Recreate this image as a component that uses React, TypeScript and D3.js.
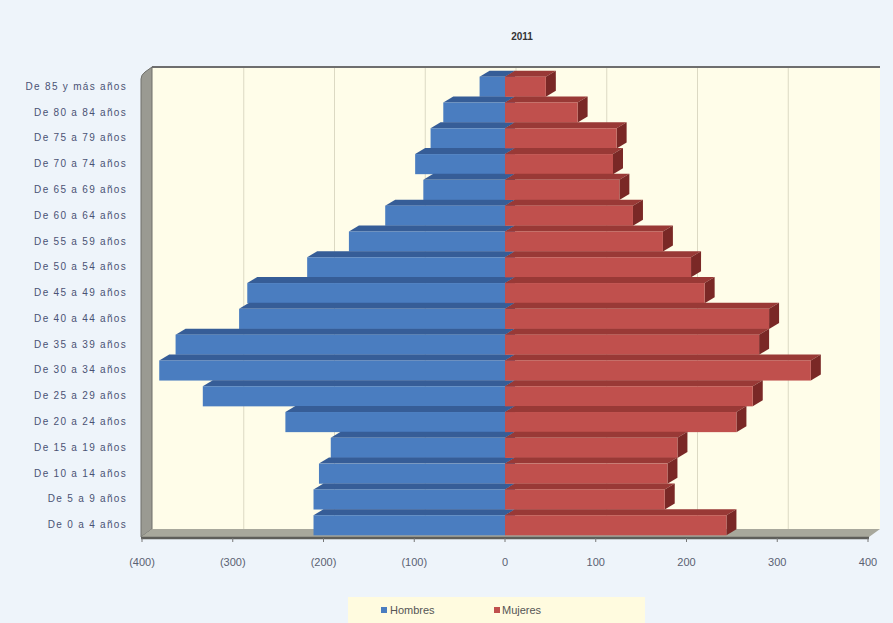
import React from 'react'
import * as d3 from 'd3'

const categories = [
  'De 85 y más años',
  'De 80 a 84 años',
  'De 75 a 79 años',
  'De 70 a 74 años',
  'De 65 a 69 años',
  'De 60 a 64 años',
  'De 55 a 59 años',
  'De 50 a 54 años',
  'De 45 a 49 años',
  'De 40 a 44 años',
  'De 35 a 39 años',
  'De 30 a 34 años',
  'De 25 a 29 años',
  'De 20 a 24 años',
  'De 15 a 19 años',
  'De 10 a 14 años',
  'De 5 a 9 años',
  'De 0 a 4 años',
]

// hombres are drawn to the left (negative values)
const hombres = [28, 68, 82, 99, 90, 132, 172, 218, 284, 293, 363, 381, 333, 242, 192, 205, 211, 211]
const mujeres = [45, 80, 123, 119, 126, 141, 174, 205, 220, 291, 280, 337, 273, 255, 190, 179, 176, 244]

const xTicks = [-400, -300, -200, -100, 0, 100, 200, 300, 400]
const title = '2011'
const seriesNames = ['Hombres', 'Mujeres']

const width = 893
const height = 623
const font = 'Liberation Sans, Arial, sans-serif'

// 3d offsets
const dx = 10
const dy = -6
const wallDx = 11
const wallDy = -8

const plot = { left: 141, right: 868, top: 75, bottom: 537 }

const xScale = d3.scaleLinear().domain([-400, 400]).range([142, 868])
const yScale = d3.scaleBand().domain(categories).range([71, 541]).padding(0.22)

const colors = {
  blue: { front: '#4a7dc0', top: '#365d97', side: '#2e4f80' },
  red: { front: '#c0504d', top: '#993936', side: '#7a2826' },
}

function fmt(t: number) {
  return t < 0 ? `(${Math.abs(t)})` : `${t}`
}

function Bar({ x0, x1, y, h, c }: { x0: number; x1: number; y: number; h: number; c: any }) {
  const top = `M${x0},${y} L${x0 + dx},${y + dy} L${x1 + dx},${y + dy} L${x1},${y} Z`
  const side = `M${x1},${y} L${x1 + dx},${y + dy} L${x1 + dx},${y + h + dy} L${x1},${y + h} Z`
  return (
    <g>
      <path d={top} fill={c.top} />
      <path d={side} fill={c.side} />
      <rect x={x0} y={y} width={x1 - x0} height={h} fill={c.front} />
    </g>
  )
}

function Walls() {
  const backLeft = plot.left + wallDx
  const backTop = plot.top + wallDy
  const backBottom = plot.bottom + wallDy
  const backRight = 880
  return (
    <g>
      <rect x={backLeft} y={backTop} width={backRight - backLeft} height={backBottom - backTop} fill="#fffde9" />
      {xTicks.slice(1, -1).map(t => (
        <line
          key={t}
          x1={xScale(t) + wallDx}
          x2={xScale(t) + wallDx}
          y1={backTop}
          y2={backBottom}
          stroke="#dcd9c3"
          strokeWidth={1}
        />
      ))}
      <path
        d={`M${plot.left},${plot.top + 4} Q${plot.left},${plot.top} ${plot.left + 4},${plot.top - 3} L${backLeft},${backTop} L${backLeft},${backBottom} L${plot.left},${plot.bottom} Z`}
        fill="#9a9a92"
        stroke="#6f6f6a"
        strokeWidth={1}
      />
      <line x1={backLeft} x2={backRight} y1={backTop} y2={backTop} stroke="#6e6e6e" strokeWidth={2} />
      <path
        d={`M${plot.left},${plot.bottom} L${backLeft},${backBottom} L${backRight},${backBottom} L${backRight - wallDx},${plot.bottom} Z`}
        fill="#a8a89c"
      />
      <line x1={plot.left} x2={backRight - wallDx} y1={plot.bottom + 1} y2={plot.bottom + 1} stroke="#5e5e5a" strokeWidth={2.5} />
    </g>
  )
}

export default function App() {
  const h = yScale.bandwidth()
  return (
    <svg
      width={width}
      height={height}
      style={{ position: 'absolute', left: 0, top: 0, background: '#eef4fa' }}
      fontFamily={font}
    >
      <rect x={0} y={0} width={width} height={height} fill="#eef4fa" />
      <text x={522} y={40} textAnchor="middle" fontSize={10} fontWeight="bold" fill="#333">
        {title}
      </text>

      <Walls />

      {categories.map((c, i) => (
        <Bar key={'h' + c} x0={xScale(-hombres[i])} x1={xScale(0)} y={yScale(c)!} h={h} c={colors.blue} />
      ))}
      {categories.map((c, i) => (
        <Bar key={'m' + c} x0={xScale(0)} x1={xScale(mujeres[i])} y={yScale(c)!} h={h} c={colors.red} />
      ))}

      {categories.map(c => (
        <text
          key={'l' + c}
          x={127}
          y={yScale(c)! + h / 2 + 3}
          textAnchor="end"
          fontSize={10}
          letterSpacing={1.3}
          fill="#4a5274"
        >
          {c}
        </text>
      ))}

      {xTicks.map(t => (
        <g key={t}>
          <line x1={xScale(t)} x2={xScale(t)} y1={plot.bottom + 1} y2={plot.bottom + 5} stroke="#777" />
          <text x={xScale(t)} y={566} textAnchor="middle" fontSize={11} fill="#5a6172">
            {fmt(t)}
          </text>
        </g>
      ))}

      <g>
        <rect x={348} y={597} width={297} height={30} fill="#fffbdf" />
        <rect x={381} y={607} width={6} height={6} fill={colors.blue.front} />
        <text x={390} y={614} fontSize={11} fill="#555">
          {seriesNames[0]}
        </text>
        <rect x={494} y={607} width={6} height={6} fill={colors.red.front} />
        <text x={502} y={614} fontSize={11} fill="#555">
          {seriesNames[1]}
        </text>
      </g>
    </svg>
  )
}
